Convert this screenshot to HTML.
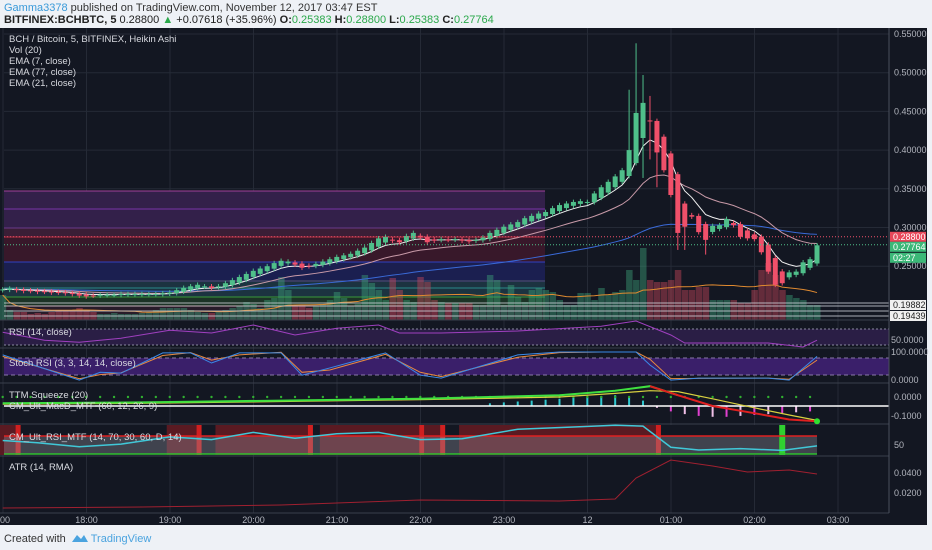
<!DOCTYPE html>
<html><head><meta charset="utf-8">
<style>
html,body{margin:0;padding:0;background:#eef1f6;width:932px;height:550px;overflow:hidden;font-family:"Liberation Sans",sans-serif}
#hdr1{position:absolute;left:4px;top:2px;font-size:11px;color:#333}
#hdr2{position:absolute;left:4px;top:14px;font-size:11px;color:#222;font-weight:bold}
#hdr2 .n{font-weight:normal}
.g{color:#2aa84a;font-weight:normal}
#foot{position:absolute;left:4px;top:532px;font-size:11px;color:#333}
#foot span{color:#4aa3df}
svg{position:absolute;left:0;top:0}
</style></head><body>
<div id="hdr1"><span style="color:#3a9ad9">Gamma3378</span> published on TradingView.com, November 12, 2017 03:47 EST</div>
<div id="hdr2">BITFINEX:BCHBTC, 5 <span class="n">0.28800 <span style="color:#2aa84a">▲</span> +0.07618 (+35.96%)</span> O:<span class="g">0.25383</span> H:<span class="g">0.28800</span> L:<span class="g">0.25383</span> C:<span class="g">0.27764</span></div>
<svg id="ch" width="932" height="550"></svg>
<div id="foot">Created with &nbsp;<svg width="16" height="10" style="position:relative;top:1px"><path d="M0 9 L5 2 L9 6 L12 2 L16 9 Z" fill="#4aa3df"/></svg> <span>TradingView</span></div>
<script>
// ---- data ----
const closes=[.220,.221,.219,.218,.218,.217,.217,.216,.216,.215,
.214,.212,.211,.212,.213,.213,.213,.214,.214,.214,
.214,.214,.214,.215,.216,.219,.222,.224,.226,.224,
.222,.224,.228,.232,.236,.240,.244,.247,.250,.254,
.257,.256,.252,.248,.250,.253,.256,.259,.262,.264,
.266,.270,.274,.280,.286,.288,.283,.281,.289,.293,
.287,.281,.283,.285,.284,.285,.283,.282,.284,.287,
.293,.297,.301,.304,.307,.312,.315,.318,.320,.325,
.329,.331,.333,.334,.333,.344,.352,.359,.366,.374,
.400,.448,.461,.437,.397,.374,.342,.293,.301,.314,
.294,.284,.302,.303,.311,.303,.288,.286,.285,.268,
.243,.226,.228,.242,.243,.255,.259,.277];
const highIdx=[90,91,92,93];
const highVal=[.478,.538,.497,.470];
const lowIdx=[92,93,94,97,98,101];
const lowVal=[.364,.388,.352,.271,.271,.265];
const volumes=[25,10,8,8,6,7,6,8,10,10,10,12,10,8,6,6,7,6,6,6,
7,8,10,12,12,12,12,10,8,7,7,8,10,12,14,18,16,12,20,22,
43,30,15,15,12,14,16,20,28,22,14,16,45,37,30,20,42,30,20,18,
43,38,20,18,17,17,17,17,15,15,45,40,15,35,23,18,30,32,30,28,
20,15,15,27,27,20,32,25,28,30,50,40,72,40,38,38,40,50,30,30,
33,33,20,20,20,20,17,17,30,50,57,45,30,25,22,20,15,15];
const priceTicks=[0.55,0.50,0.45,0.40,0.35,0.30,0.25];
const timeLabels=["18:00","19:00","20:00","21:00","22:00","23:00","12","01:00","02:00","03:00"];
const rsiIdx=[0,6,11,17,24,30,36,42,48,54,57,63,74,86,91,96,98,104,110,115,117];
const rsiVal=[62,42,37,47,67,60,80,55,72,80,60,60,65,77,90,55,35,35,35,25,42];
const stIdx=[0,11,14,17,23,27,30,34,40,43,47,55,60,63,74,80,86,91,93,96,100,110,113,117];
const stK=[90,3,30,27,97,97,62,97,97,20,45,97,20,10,90,100,100,100,55,3,10,10,3,85];
const stD=[85,8,22,28,88,98,72,90,99,30,38,92,30,15,82,98,100,100,75,8,9,10,6,72];
const macdIdx=[0,20,40,60,80,88,93,97,102,108,113,117];
const macdVal=[0.03,0.04,0.06,0.08,0.12,0.17,0.22,0.12,0.0,-0.08,-0.15,-0.17];
const sigVal=[0.02,0.03,0.05,0.07,0.10,0.14,0.17,0.16,0.08,-0.02,-0.10,-0.16];
const histIdx=[70,72,74,76,78,80,82,84,86,88,90,92,94,96,98,100,102,104,106,108,110,112,114,116];
const histVal=[.03,.04,.05,.06,.07,.08,.09,.10,.11,.12,.10,.06,-.02,-.06,-.09,-.11,-.12,-.12,-.11,-.10,-.09,-.08,-.07,-.06];
const cmIdx=[0,5,11,17,24,30,36,42,48,54,60,66,74,82,88,92,96,100,106,112,117];
const cmVal=[60,55,46,52,68,62,78,65,75,78,62,64,85,90,94,92,45,39,42,38,48];
const zoneStart=[0,24,31,46,61,66];
const zoneEnd=[2,28,44,60,63,94];
const atrIdx=[0,20,40,60,80,88,91,96,102,107,113,117];
const atrVal=[.005,.006,.008,.013,.012,.014,.035,.053,.047,.041,.043,.039];

// ---- helpers ----
const NS="http://www.w3.org/2000/svg";
const svg=document.getElementById('ch');
function mk(tag,attrs,parent){const e=document.createElementNS(NS,tag);for(const k in attrs)e.setAttribute(k,attrs[k]);(parent||svg).appendChild(e);return e;}
const X=i=>2.7+6.96*i;
const PY=p=>34+(0.55-p)*774;
const RY=v=>337-(v-50)*0.4;
const SY=v=>381-v*0.29;
const MY=v=>406-v*90;
const CY=v=>445-(v-50)*0.45;
const AY=v=>513-v*1000;
const hourX=h=>3+83.5*h;

// background
let e;
e=mk('rect',{x:0,y:28,width:927,height:497,fill:'#131722'});

// vertical grid
for(let h=0;h<=10;h++){e=mk('line',{x1:hourX(h),x2:hourX(h),y1:28,y2:513,stroke:'#252a36','stroke-width':1});
}
priceTicks.forEach(p=>{e=mk('line',{x1:4,x2:889,y1:PY(p),y2:PY(p),stroke:'#252a36'});
});

// zones in main pane
const zones=[[191,228,'#33204a'],[228,237,'#3a1e36'],[237,262,'#38182a'],[262,282,'#1b1f50'],[282,297,'#1c3340'],[297,306,'#1c3326'],[306,320,'#281c2a']];
zones.forEach(z=>{e=mk('rect',{x:4,y:z[0],width:541,height:z[1]-z[0],fill:z[2]});
});
[[191,'#a0409a'],[209,'#7a35a8'],[228,'#6a3a8a'],[237,'#c03040'],[262,'#3040c0'],[281,'#555a70'],[288,'#2a8a8a'],[297,'#3a9a3a'],[306,'#b03040']].forEach(l=>{
e=mk('line',{x1:4,x2:545,y1:l[0],y2:l[0],stroke:l[1],'stroke-width':1});
});

// volumes
let opens=[],hs=[],ls=[];
closes.forEach((c,i)=>{const o=i==0?.219:(opens[i-1]+closes[i-1])/2;opens.push(o);
let h=Math.max(o,c)+.003,l=Math.min(o,c)-.003;const hi=highIdx.indexOf(i);if(hi>=0)h=highVal[hi];const li=lowIdx.indexOf(i);if(li>=0)l=lowVal[li];hs.push(h);ls.push(l);});
volumes.forEach((v,i)=>{const up=closes[i]>=opens[i];
e=mk('rect',{x:X(i)-3,y:320-v,width:6.5,height:v,fill:up?'rgba(60,160,120,0.45)':'rgba(200,70,90,0.45)'});
});
// vol MA
let vma=volumes.map((v,i)=>{const s=volumes.slice(Math.max(0,i-19),i+1);return s.reduce((a,b)=>a+b,0)/s.length;});
e=mk('polyline',{points:vma.map((v,i)=>X(i)+','+(320-v)).join(' '),fill:'none',stroke:'#e08a30','stroke-width':1});


// white horizontal levels
[303,306,311,316].forEach(y=>{e=mk('line',{x1:4,x2:889,y1:y,y2:y,stroke:'#d0d4dc','stroke-width':1,opacity:0.8});
});

// EMAs
function ema(n){let k=2/(n+1),r=[],p=closes[0];closes.forEach(c=>{p=c*k+p*(1-k);r.push(p);});return r;}
[[77,'#3a6ad8'],[21,'#c89aa8'],[7,'#f0f0f0']].forEach(s=>{const a=ema(s[0]);
e=mk('polyline',{points:a.map((v,i)=>X(i)+','+PY(v)).join(' '),fill:'none',stroke:s[1],'stroke-width':1});
});

// candles
closes.forEach((c,i)=>{const o=opens[i];const up=c>=o;const col=up?'#4fbf8a':'#f0506a';
e=mk('line',{x1:X(i),x2:X(i),y1:PY(hs[i]),y2:PY(ls[i]),stroke:col,'stroke-width':1});

const y1=PY(Math.max(o,c)),y2=PY(Math.min(o,c));
e=mk('rect',{x:X(i)-2.5,y:y1,width:5,height:Math.max(1,y2-y1),fill:col});
});

// last price lines
e=mk('line',{x1:4,x2:889,y1:PY(.288),y2:PY(.288),stroke:'#f0506a','stroke-dasharray':'1,2'});

e=mk('line',{x1:4,x2:889,y1:PY(.27764),y2:PY(.27764),stroke:'#4fbf8a','stroke-dasharray':'1,2'});


// pane separators
[320,348,383,424,456,513].forEach(y=>{e=mk('line',{x1:0,x2:927,y1:y,y2:y,stroke:'#3a3f4c'});
});

// RSI pane
e=mk('rect',{x:4,y:329,width:885,height:16,fill:'#2a1e45'});

[329,345].forEach(y=>{e=mk('line',{x1:4,x2:889,y1:y,y2:y,stroke:'#8a8aa0','stroke-dasharray':'2,2'});
});
e=mk('polyline',{points:rsiIdx.map((v,k)=>X(v)+','+RY(rsiVal[k])).join(' '),fill:'none',stroke:'#a040c0','stroke-width':1});


// Stoch pane
e=mk('rect',{x:4,y:358,width:885,height:17,fill:'#3a1f6a'});

[358,375].forEach(y=>{e=mk('line',{x1:4,x2:889,y1:y,y2:y,stroke:'#8a7aa8','stroke-dasharray':'4,3'});
});
e=mk('polyline',{points:stIdx.map((v,k)=>X(v)+','+SY(stD[k])).join(' '),fill:'none',stroke:'#e88a40','stroke-width':1});

e=mk('polyline',{points:stIdx.map((v,k)=>X(v)+','+SY(stK[k])).join(' '),fill:'none',stroke:'#3a8ae8','stroke-width':1});


// TTM/MACD pane
histIdx.forEach((v,k)=>{const val=histVal[k];const y0=MY(0),y1=MY(val);
e=mk('rect',{x:X(v)-1,y:Math.min(y0,y1),width:2,height:Math.abs(y1-y0),fill:val>=0?'#30c8d0':(k%2?'#e040d0':'#f0c0e8')});
});
for(let i=0;i<118;i+=2){e=mk('circle',{cx:X(i),cy:397,r:1.2,fill:'#30b030'});
}
e=mk('line',{x1:4,x2:889,y1:406,y2:406,stroke:'#ffffff','stroke-width':1.5});

e=mk('polyline',{points:macdIdx.map((v,k)=>X(v)+','+MY(sigVal[k])).join(' '),fill:'none',stroke:'#d8d040','stroke-width':1.2});

e=mk('polyline',{points:macdIdx.slice(0,8).map((v,k)=>X(v)+','+MY(macdVal[k])).join(' '),fill:'none',stroke:'#40e040','stroke-width':2});

e=mk('polyline',{points:macdIdx.slice(6).map((v,k)=>X(v)+','+MY(macdVal[k+6])).join(' '),fill:'none',stroke:'#e02020','stroke-width':2});

e=mk('circle',{cx:X(117),cy:MY(macdVal[macdVal.length-1]),r:3,fill:'#30e030'});


// CM RSI pane
e=mk('rect',{x:4,y:425,width:885,height:30,fill:'#131722'});

zoneStart.forEach((s,k)=>{e=mk('rect',{x:X(s)-3,y:425,width:X(zoneEnd[k])-X(s)+6,height:30,fill:'#5a1a22'});

e=mk('rect',{x:X(zoneEnd[k])-1,y:425,width:5,height:30,fill:'#d02020'});
});
e=mk('rect',{x:4,y:CY(70),width:X(117)-4,height:CY(30)-CY(70),fill:'rgba(150,150,160,0.35)'});

e=mk('rect',{x:X(112)-3,y:425,width:6,height:30,fill:'#30d030'});

e=mk('line',{x1:4,x2:X(117),y1:CY(70),y2:CY(70),stroke:'#e02020','stroke-width':1.5});

e=mk('line',{x1:4,x2:X(117),y1:CY(30),y2:CY(30),stroke:'#30c030','stroke-width':1.5});

e=mk('polyline',{points:cmIdx.map((v,k)=>X(v)+','+CY(cmVal[k])).join(' '),fill:'none',stroke:'#40c8d8','stroke-width':1.5});


// ATR
e=mk('polyline',{points:atrIdx.map((v,k)=>X(v)+','+AY(atrVal[k])).join(' '),fill:'none',stroke:'#a02030','stroke-width':1});


// right axis
e=mk('rect',{x:889,y:28,width:38,height:497,fill:'#131722'});

e=mk('line',{x1:889,x2:889,y1:28,y2:513,stroke:'#4a4f5c'});

function lab(x,y,t,fill,name,sz,anchor){const el=mk('text',{x:x,y:y,fill:fill,'font-size':sz||9,'text-anchor':anchor||'start','font-family':'Liberation Sans, sans-serif'});el.textContent=t;
return el;}
priceTicks.forEach(p=>lab(894,PY(p)+3,p.toFixed(5),'#b2b5be','price-tick-label'));
function box(y,t,bg,fg,name){e=mk('rect',{x:890,y:y-5,width:36,height:10,fill:bg});lab(893,y+3,t,fg,name);}
box(PY(.288),'0.28800','#e8485a','#fff','high-price-label');
box(PY(.27764)+2,'0.27764','#3cb878','#fff','last-price-label');
box(PY(.27764)+13,'02:27','#3cb878','#fff','countdown-label');
box(305,'0.19882','#f0f0f0','#222','level-label-1');
box(316,'0.19439','#f0f0f0','#222','level-label-2');
lab(891,343,'50.0000','#b2b5be','rsi-axis-label');
lab(891,355,'100.0000','#b2b5be','stoch-axis-top');
lab(891,383,'0.0000','#b2b5be','stoch-axis-bottom');
lab(894,400,'0.0000','#b2b5be','macd-axis-zero');
lab(891,419,'-0.1000','#b2b5be','macd-axis-neg');
lab(894,448,'50','#b2b5be','cm-axis-50');
lab(894,476,'0.0400','#b2b5be','atr-axis-1');
lab(894,496,'0.0200','#b2b5be','atr-axis-2');
// time axis
e=mk('rect',{x:0,y:514,width:927,height:11,fill:'#131722'});

lab(0,523,'00','#b2b5be','time-label',9);
timeLabels.forEach((t,h)=>lab(hourX(h+1),523,t,'#b2b5be','time-label',9,'middle'));
// legends
['BCH / Bitcoin, 5, BITFINEX, Heikin Ashi','Vol (20)','EMA (7, close)','EMA (77, close)','EMA (21, close)'].forEach((t,k)=>lab(9,42+k*11,t,'#d8dae0','main-legend-entry',9.5));
lab(9,335,'RSI (14, close)','#d8dae0','rsi-title',9.5);
lab(9,366,'Stoch RSI (3, 3, 14, 14, close)','#d8dae0','stoch-title',9.5);
lab(9,398,'TTM Squeeze (20)','#d8dae0','ttm-title',9.5);
lab(9,409,'CM_Ult_MacD_MTF (60, 12, 26, 9)','#d8dae0','macd-title',9.5);
lab(9,440,'CM_Ult_RSI_MTF (14, 70, 30, 60, D, 14)','#d8dae0','cm-rsi-title',9.5);
lab(9,470,'ATR (14, RMA)','#d8dae0','atr-title',9.5);
</script>
</body></html>
